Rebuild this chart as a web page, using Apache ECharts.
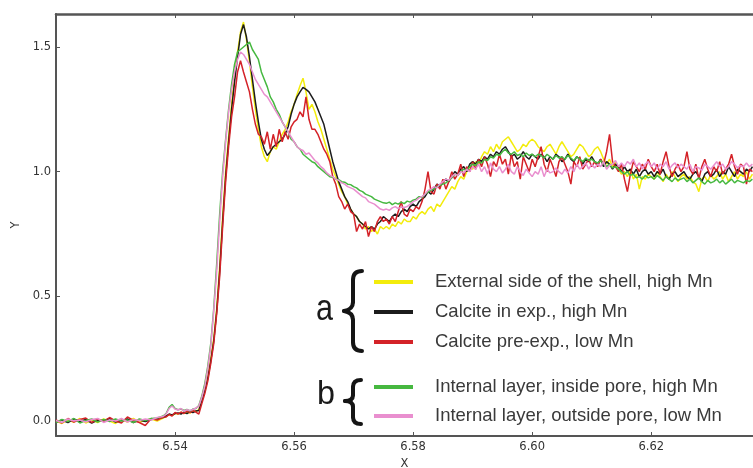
<!DOCTYPE html>
<html><head><meta charset="utf-8">
<script src="https://cdn.jsdelivr.net/npm/echarts@6/dist/echarts.min.js"></script>
<style>html,body{margin:0;padding:0;background:#fff}#c{width:753px;height:468px}</style>
</head><body><div id="c"></div>
<script>
// Energy sampling positions (keV)
const X = [
6.520,6.521,6.522,6.523,6.524,6.525,6.526,6.527,6.528,6.529,6.530,6.531,6.532,6.533,6.534,6.535,6.536,6.537,6.538,
6.5385,6.539,6.5395,6.540,
6.5405,6.541,6.5415,6.542,6.5425,6.543,6.5435,6.544,6.5445,6.545,
6.5455,6.546,6.5465,6.547,6.5475,6.548,6.5485,6.549,6.5495,6.550,
6.5505,6.551,6.5515,6.552,6.5525,6.553,6.5535,6.554,6.5545,6.555,
6.5555,6.556,6.5565,6.557,6.5575,6.558,6.5585,6.559,6.5595,6.560,
6.5605,6.561,6.5615,6.562,6.5625,6.563,6.5635,6.564,6.5645,6.565,
6.5655,6.566,6.5665,6.567,6.5675,6.568,6.5685,6.569,6.5695,6.570,
6.5705,6.571,6.5715,6.572,6.5725,6.573,6.5735,6.574,6.5745,6.575,
6.5755,6.576,6.5765,6.577,6.5775,6.578,6.5785,6.579,6.5795,6.580,
6.5805,6.581,6.5815,6.582,6.5825,6.583,6.5835,6.584,6.5845,6.585,
6.5855,6.586,6.5865,6.587,6.5875,6.588,6.5885,6.589,6.5895,6.590,
6.5905,6.591,6.5915,6.592,6.5925,6.593,6.5935,6.594,6.5945,6.595,
6.5955,6.596,6.5965,6.597,6.5975,6.598,6.5985,6.599,6.5995,6.600,
6.6005,6.601,6.6015,6.602,6.6025,6.603,6.6035,6.604,6.6045,6.605,
6.6055,6.606,6.6065,6.607,6.6075,6.608,6.6085,6.609,6.6095,6.610,
6.6105,6.611,6.6115,6.612,6.6125,6.613,6.6135,6.614,6.6145,6.615,
6.6155,6.616,6.6165,6.617,6.6175,6.618,6.6185,6.619,6.6195,6.620,
6.6205,6.621,6.6215,6.622,6.6225,6.623,6.6235,6.624,6.6245,6.625,
6.6255,6.626,6.6265,6.627,6.6275,6.628,6.6285,6.629,6.6295,6.630,
6.6305,6.631,6.6315,6.632,6.6325,6.633,6.6335,6.634,6.6345,6.635,
6.6355,6.636,6.6365,6.637
];

const seriesNames = [
  'External side of the shell, high Mn',
  'Calcite in exp., high Mn',
  'Calcite pre-exp., low Mn',
  'Internal layer, inside pore, high Mn',
  'Internal layer, outside pore, low Mn'
];

const yellowY = [
0.00,-0.01,0.005,-0.005,0.01,-0.008,0.004,-0.006,0.008,0.0,-0.01,0.006,-0.004,0.01,-0.005,0.003,0.008,0.0,0.012,
0.018,0.026,0.022,0.03,
0.028,0.034,0.03,0.036,0.032,0.04,0.038,0.045,0.09,0.13,
0.18,0.25,0.33,0.45,0.62,0.82,1.0,1.14,1.27,1.38,
1.48,1.56,1.60,1.53,1.44,1.34,1.25,1.17,1.1,1.06,
1.04,1.08,1.1,1.09,1.12,1.15,1.17,1.2,1.24,1.27,
1.31,1.345,1.375,1.32,1.25,1.27,1.24,1.2,1.17,1.13,
1.09,1.05,1.01,0.98,0.95,0.92,0.9,0.87,0.85,0.83,
0.82,0.8,0.79,0.77,0.78,0.76,0.77,0.75,0.78,0.77,
0.78,0.77,0.79,0.78,0.8,0.79,0.81,0.8,0.8,0.82,
0.81,0.83,0.84,0.83,0.85,0.86,0.84,0.87,0.86,0.88,
0.9,0.92,0.94,0.93,0.96,0.98,0.97,1.0,1.02,1.01,
1.04,1.03,1.06,1.08,1.07,1.1,1.08,1.11,1.09,1.12,
1.13,1.14,1.12,1.1,1.08,1.09,1.11,1.1,1.12,1.13,
1.12,1.1,1.09,1.08,1.1,1.11,1.09,1.07,1.1,1.12,
1.1,1.08,1.06,1.07,1.09,1.11,1.1,1.08,1.06,1.07,
1.09,1.1,1.08,1.05,1.03,1.05,1.02,1.04,1.01,0.99,
1.0,0.98,1.01,0.97,0.99,0.93,0.98,0.97,0.99,0.98,
0.97,1.0,0.98,0.96,0.99,0.97,1.0,0.98,0.96,0.98,
0.99,0.97,0.98,0.96,0.95,0.92,0.97,0.98,0.96,0.99,
0.97,0.98,1.0,0.97,0.99,0.96,0.98,1.0,0.97,0.99,
0.98,1.0,0.97,0.99
];

const blackY = [
-0.005,0.004,-0.006,0.008,-0.002,0.006,-0.008,0.004,0.0,0.01,-0.004,0.002,0.008,-0.006,0.004,-0.002,0.006,0.01,0.014,
0.02,0.028,0.024,0.03,
0.032,0.028,0.035,0.03,0.038,0.034,0.04,0.042,0.08,0.12,
0.17,0.24,0.32,0.44,0.6,0.8,0.98,1.12,1.25,1.36,
1.46,1.55,1.59,1.54,1.46,1.37,1.28,1.2,1.13,1.09,
1.065,1.08,1.1,1.11,1.12,1.13,1.15,1.18,1.23,1.27,
1.3,1.32,1.338,1.33,1.32,1.3,1.28,1.25,1.22,1.19,
1.14,1.09,1.04,1.0,0.96,0.93,0.9,0.88,0.85,0.83,
0.82,0.8,0.79,0.78,0.77,0.78,0.77,0.79,0.8,0.82,
0.81,0.8,0.82,0.83,0.82,0.84,0.85,0.84,0.86,0.87,
0.86,0.88,0.89,0.9,0.92,0.91,0.93,0.95,0.94,0.96,
0.97,0.96,0.98,1.0,0.99,1.01,1.02,1.0,1.03,1.04,
1.03,1.05,1.04,1.06,1.05,1.07,1.06,1.08,1.07,1.09,
1.1,1.08,1.06,1.07,1.05,1.06,1.08,1.06,1.05,1.07,
1.06,1.05,1.07,1.06,1.04,1.06,1.05,1.07,1.06,1.04,
1.05,1.07,1.05,1.04,1.06,1.05,1.03,1.05,1.04,1.06,
1.04,1.03,1.05,1.02,1.04,1.03,1.01,1.03,1.02,1.0,
1.02,1.0,1.01,0.99,1.01,0.98,1.0,1.01,0.99,1.0,
0.98,1.0,0.99,1.01,0.98,0.97,0.99,1.0,0.98,0.99,
1.0,0.98,0.97,0.99,1.0,0.98,0.96,0.99,1.0,0.98,
0.99,1.01,0.98,1.0,0.99,1.02,1.0,0.98,1.01,1.0,
0.99,1.01,1.0,1.02
];

const redY = [
0.004,-0.008,0.01,-0.004,0.006,0.012,-0.006,0.008,-0.002,0.014,0.0,-0.008,0.016,0.002,-0.006,-0.018,0.01,0.004,0.016,
0.016,0.026,0.02,0.034,
0.028,0.036,0.03,0.04,0.034,0.042,0.036,0.028,0.07,0.11,
0.16,0.23,0.31,0.43,0.58,0.78,0.96,1.1,1.22,1.3,
1.4,1.445,1.4,1.36,1.32,1.25,1.19,1.15,1.14,1.11,
1.16,1.09,1.15,1.1,1.17,1.12,1.16,1.13,1.18,1.2,
1.21,1.24,1.22,1.3,1.21,1.17,1.17,1.15,1.12,1.09,
1.07,1.04,0.98,0.95,0.9,0.88,0.85,0.87,0.84,0.83,
0.76,0.79,0.77,0.8,0.74,0.78,0.76,0.8,0.82,0.8,
0.81,0.79,0.82,0.8,0.84,0.88,0.83,0.82,0.85,0.84,
0.86,0.85,0.88,0.93,1.0,0.92,0.91,0.95,0.93,0.97,
0.93,0.96,1.0,0.97,0.99,1.03,0.98,1.02,1.0,1.04,
1.01,1.05,1.02,1.06,1.03,0.98,1.04,1.02,1.07,1.03,
1.05,0.99,1.07,1.02,1.04,0.97,1.06,1.03,1.0,1.05,
1.02,1.06,1.1,1.03,1.0,1.05,1.02,0.98,1.04,1.06,
1.03,1.0,0.95,1.04,1.02,1.06,1.01,1.03,1.05,1.02,
1.04,1.02,1.05,1.03,1.08,1.15,1.04,1.02,1.0,1.03,
0.97,0.92,0.99,1.04,1.02,1.0,1.03,1.01,1.05,1.02,
1.0,1.03,0.99,1.04,1.08,1.02,0.98,1.01,1.03,1.0,
1.02,1.08,1.01,0.99,1.03,0.97,1.02,1.05,1.01,0.98,
1.02,1.0,1.04,0.99,1.01,1.03,1.07,1.02,0.99,1.03,
1.02,0.95,1.01,1.0
];

const greenY = [
-0.006,0.006,-0.002,0.01,-0.008,0.002,0.008,-0.004,0.006,-0.002,0.008,0.0,0.004,-0.006,0.008,0.002,0.01,0.012,0.02,
0.03,0.055,0.066,0.05,
0.045,0.048,0.042,0.046,0.04,0.048,0.05,0.062,0.1,0.15,
0.22,0.31,0.45,0.63,0.83,1.0,1.13,1.25,1.35,1.43,
1.48,1.49,1.5,1.51,1.52,1.49,1.47,1.45,1.4,1.37,
1.34,1.3,1.28,1.25,1.23,1.2,1.18,1.16,1.13,1.12,
1.1,1.09,1.07,1.06,1.05,1.04,1.035,1.02,1.01,1.0,
0.99,0.98,0.978,0.97,0.968,0.96,0.958,0.95,0.948,0.94,
0.935,0.925,0.92,0.91,0.905,0.9,0.89,0.885,0.88,0.875,
0.873,0.878,0.868,0.875,0.87,0.878,0.872,0.882,0.878,0.886,
0.89,0.9,0.896,0.91,0.918,0.927,0.93,0.94,0.945,0.95,
0.955,0.965,0.975,0.99,0.985,1.0,1.01,1.005,1.02,1.03,
1.025,1.04,1.035,1.05,1.045,1.06,1.055,1.07,1.065,1.08,
1.09,1.075,1.07,1.08,1.065,1.07,1.06,1.075,1.065,1.07,
1.06,1.07,1.065,1.055,1.07,1.06,1.05,1.065,1.055,1.06,
1.05,1.065,1.055,1.045,1.06,1.05,1.04,1.055,1.045,1.05,
1.04,1.035,1.045,1.03,1.02,1.03,1.015,1.02,1.01,1.0,
0.99,1.0,0.985,0.99,0.975,0.98,0.97,0.985,0.975,0.98,
0.97,0.985,0.975,0.965,0.98,0.97,0.96,0.975,0.965,0.97,
0.975,0.96,0.97,0.955,0.965,0.975,0.96,0.95,0.965,0.955,
0.96,0.97,0.955,0.965,0.95,0.96,0.97,0.955,0.965,0.96,
0.955,0.965,0.96,0.97
];

const pinkY = [
0.002,-0.006,0.008,0.0,0.004,-0.004,0.006,0.01,-0.006,0.004,0.0,0.01,-0.004,0.006,0.002,0.008,0.004,0.014,0.018,
0.028,0.05,0.06,0.048,
0.044,0.05,0.04,0.045,0.042,0.046,0.052,0.06,0.095,0.14,
0.21,0.3,0.44,0.6,0.8,0.98,1.12,1.24,1.33,1.4,
1.45,1.48,1.47,1.45,1.43,1.4,1.37,1.35,1.33,1.31,
1.3,1.28,1.26,1.24,1.22,1.2,1.18,1.16,1.14,1.12,
1.1,1.09,1.085,1.07,1.075,1.06,1.045,1.035,1.02,1.01,
0.995,0.985,0.98,0.97,0.965,0.955,0.95,0.94,0.935,0.93,
0.92,0.91,0.9,0.895,0.88,0.875,0.87,0.86,0.85,0.846,
0.85,0.845,0.855,0.86,0.852,0.858,0.856,0.86,0.87,0.88,
0.885,0.895,0.9,0.91,0.925,0.93,0.94,0.935,0.95,0.96,
0.97,0.965,0.98,0.99,0.985,1.0,0.995,1.01,1.0,1.02,
1.01,1.03,1.0,1.02,0.99,1.035,1.01,1.0,1.02,0.995,
1.01,1.03,1.0,0.99,1.02,1.0,0.985,1.01,0.995,0.98,
1.0,0.99,1.02,0.98,1.01,0.995,1.0,1.015,1.0,0.99,
1.01,0.995,1.02,1.0,1.03,1.01,1.02,1.035,1.01,1.03,
1.015,1.03,1.02,1.04,1.01,1.025,1.03,1.045,1.02,1.035,
1.02,1.04,1.03,1.05,1.02,1.035,1.01,1.03,1.04,1.02,
1.035,1.01,1.03,1.02,1.04,1.01,1.025,1.035,1.015,1.03,
1.02,1.01,1.03,1.0,1.02,1.015,1.005,1.03,1.02,1.01,
1.025,1.04,1.02,1.03,1.01,1.02,1.04,1.03,1.015,1.025,
1.02,1.035,1.02,1.03
];

const xTicks = [6.54, 6.56, 6.58, 6.60, 6.62];
const yTicks = [0.0, 0.5, 1.0, 1.5];
const colors = ['#f3ec0c', '#1c1c1c', '#d42228', '#46b840', '#e98fcf'];
const allY = [yellowY, blackY, redY, greenY, pinkY];

const chart = echarts.init(document.getElementById('c'), null, {renderer: 'canvas'});
const axisColor = '#555';
const tickFont = {color: '#333', fontFamily: 'DejaVu Sans', fontSize: 11.5};

const series = allY.map((ys, s) => ({
  name: seriesNames[s],
  type: 'line',
  data: X.map((x, i) => [x, ys[i]]),
  showSymbol: false,
  symbol: 'none',
  color: colors[s],
  lineStyle: {width: 1.5, color: colors[s]},
  itemStyle: {color: colors[s]},
  animation: false
}));

const legendText = {fontSize: 18.5, fontFamily: 'Liberation Sans', color: '#3a3a3a', padding: [0, 0, 0, 17], lineHeight: 20};

// brace pieces (bezier curves + straight runs)
const braceStyle = {stroke: '#151515', lineWidth: 4, lineCap: 'round', fill: null};
function curve(x1, y1, c1x, c1y, c2x, c2y, x2, y2) {
  return {type: 'bezierCurve', shape: {x1: x1, y1: y1, cpx1: c1x, cpy1: c1y, cpx2: c2x, cpy2: c2y, x2: x2, y2: y2}, style: braceStyle};
}
function seg(x1, y1, x2, y2) {
  return {type: 'line', shape: {x1: x1, y1: y1, x2: x2, y2: y2}, style: braceStyle};
}
const braces = [
  curve(362,271, 356,271, 353,274, 353,280), seg(353,280,353,302),
  curve(353,302, 353,307, 350,310, 344,311), curve(344,311, 350,312, 353,315, 353,320),
  seg(353,320,353,342), curve(353,342, 353,348, 356,351, 362,351),
  curve(361,380, 356,380, 353,382, 353,387), seg(353,387,353,395),
  curve(353,395, 353,399, 350,401, 345,401), curve(345,401, 350,401, 353,403, 353,407),
  seg(353,407,353,417), curve(353,417, 353,422, 356,424, 361,424)
];

chart.setOption({
  backgroundColor: '#fff',
  animation: false,
  grid: {left: 56, right: 0, top: 14, bottom: 32, containLabel: false, outerBoundsMode: 'none'},
  xAxis: [
    {type: 'value', position: 'bottom', min: 6.52, max: 6.6371,
     axisLine: {show: true, onZero: false, lineStyle: {color: axisColor, width: 2}},
     axisTick: {show: true, inside: true, length: 4, customValues: xTicks, lineStyle: {color: axisColor}},
     axisLabel: Object.assign({customValues: xTicks, formatter: v => v.toFixed(2), margin: 5}, tickFont),
     splitLine: {show: false},
     name: 'X', nameLocation: 'middle', nameGap: 20,
     nameTextStyle: {color: '#333', fontFamily: 'DejaVu Sans', fontSize: 11.5}},
    {type: 'value', position: 'top', min: 6.52, max: 6.6371,
     axisLine: {show: true, onZero: false, lineStyle: {color: axisColor, width: 2.5}},
     axisTick: {show: true, inside: true, length: 4, customValues: xTicks, lineStyle: {color: axisColor}},
     axisLabel: {show: false}, splitLine: {show: false}}
  ],
  yAxis: {type: 'value', min: -0.0602, max: 1.6324,
    axisLine: {show: true, onZero: false, lineStyle: {color: axisColor, width: 2}},
    axisTick: {show: true, inside: true, length: 4, customValues: yTicks, lineStyle: {color: axisColor}},
    axisLabel: Object.assign({customValues: yTicks, formatter: v => v.toFixed(1), margin: 5}, tickFont),
    splitLine: {show: false},
    name: 'Y', nameLocation: 'middle', nameGap: 34, nameRotate: 90,
    nameTextStyle: {color: '#333', fontFamily: 'DejaVu Sans', fontSize: 11.5}},
  legend: [
    {data: seriesNames.slice(0, 3), orient: 'vertical', left: 374, top: 272, padding: 0,
     icon: 'rect', itemWidth: 39, itemHeight: 4, itemGap: 10, selectedMode: false, textStyle: legendText},
    {data: seriesNames.slice(3), orient: 'vertical', left: 374, top: 377, padding: 0,
     icon: 'rect', itemWidth: 39, itemHeight: 4, itemGap: 9, selectedMode: false, textStyle: legendText}
  ],
  graphic: [
    {type: 'text', x: 316, y: 310, scaleX: 0.85, style: {text: 'a', fontSize: 36, fontFamily: 'Liberation Sans', fill: '#1a1a1a', verticalAlign: 'middle'}},
    {type: 'text', x: 317, y: 395, scaleX: 0.95, style: {text: 'b', fontSize: 34, fontFamily: 'Liberation Sans', fill: '#1a1a1a', verticalAlign: 'middle'}}
  ].concat(braces),
  series: series
});
</script>
</body></html>
